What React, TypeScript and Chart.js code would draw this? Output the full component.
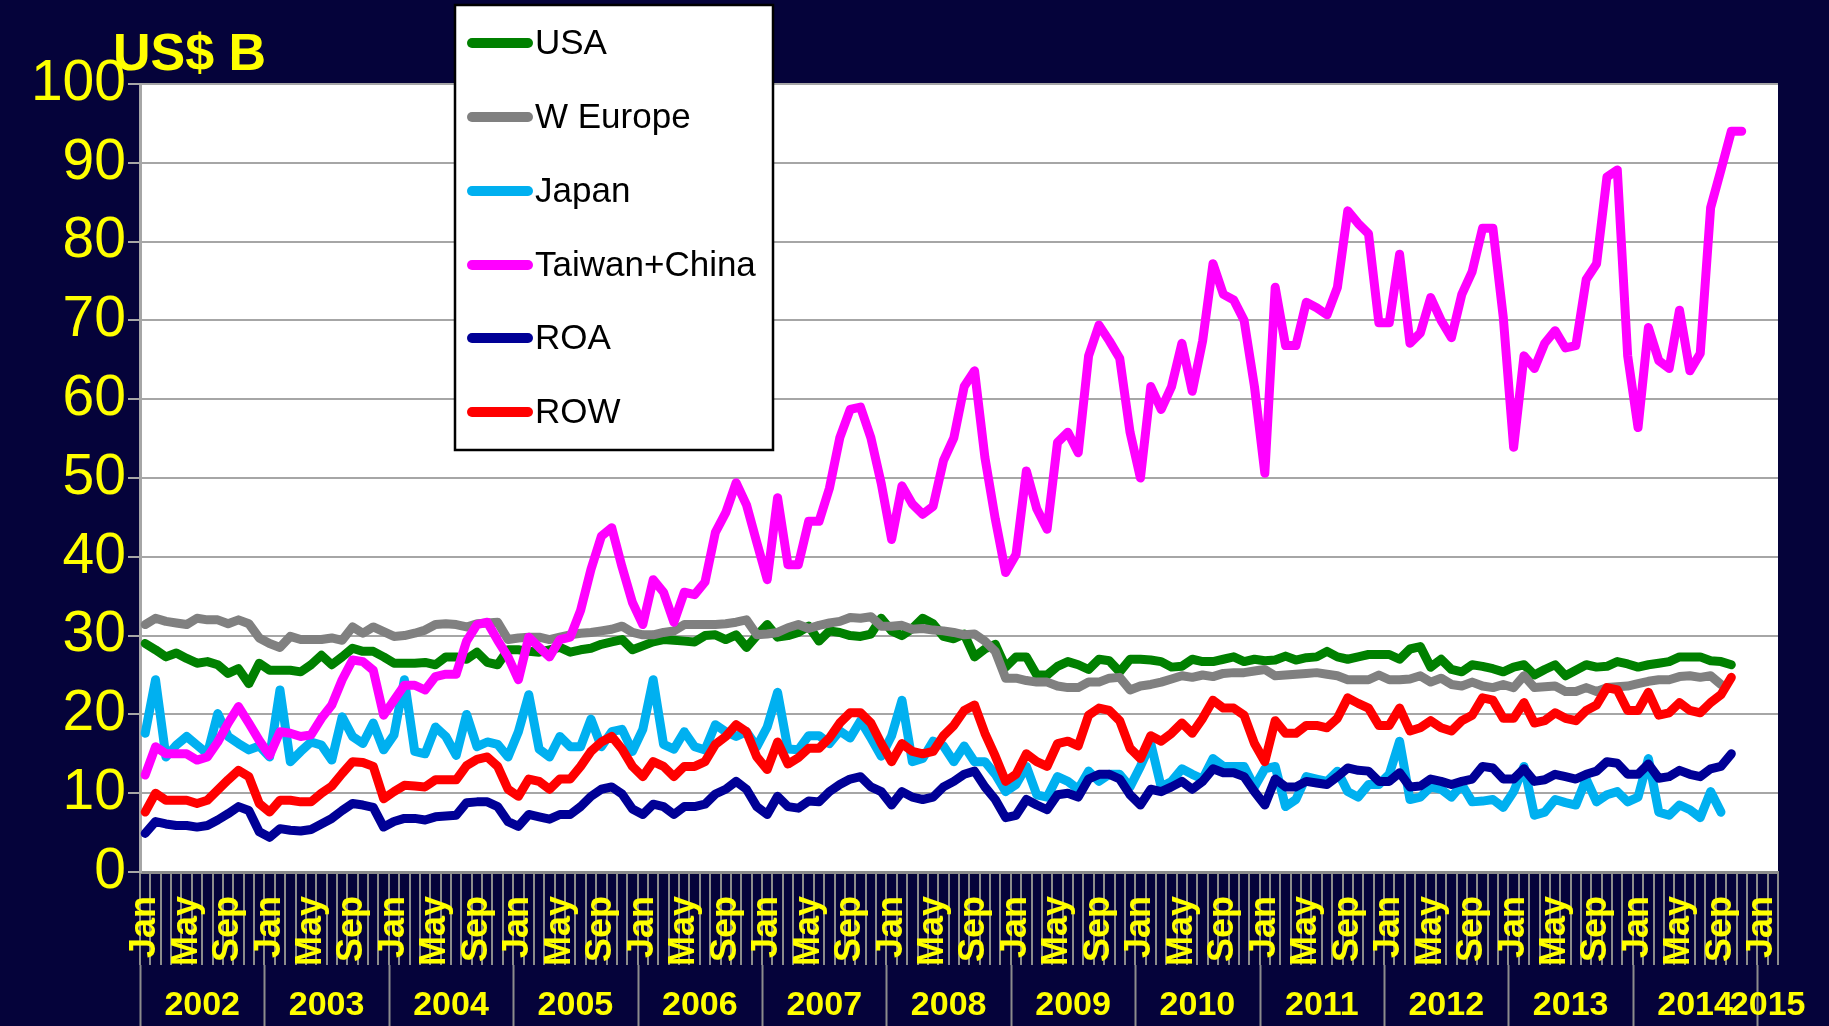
import React, { useEffect, useRef } from 'react';
import { Chart, registerables } from 'chart.js';

Chart.register(...registerables);

// ---------- data ----------
const monthNames = ['Jan', 'Feb', 'Mar', 'Apr', 'May', 'Jun', 'Jul', 'Aug', 'Sep', 'Oct', 'Nov', 'Dec'];
const shownMonths = ['Jan', 'May', 'Sep'];
const years = ['2002', '2003', '2004', '2005', '2006', '2007', '2008', '2009', '2010', '2011', '2012', '2013', '2014', '2015'];
const yTicks = [0, 10, 20, 30, 40, 50, 60, 70, 80, 90, 100];
const unitTitle = 'US$ B';

// Jan 2002 .. Feb 2015 (158 monthly categories)
const categories: string[] = [];
years.forEach((yr) => {
  monthNames.forEach((m, mi) => {
    if (yr === '2015' && mi > 1) return;
    categories.push(`${m} ${yr}`);
  });
});

const usa = [
  29.0, 28.2, 27.3, 27.8, 27.1, 26.5, 26.7, 26.3, 25.2, 25.8, 23.9, 26.5,
  25.6, 25.6, 25.6, 25.4, 26.3, 27.5, 26.3, 27.3, 28.4, 28.0, 28.0, 27.3,
  26.5, 26.5, 26.5, 26.6, 26.3, 27.3, 27.3, 27.0, 27.9, 26.6, 26.3, 28.2,
  28.2, 28.0, 27.9, 28.2, 28.5, 27.9, 28.2, 28.4, 28.9, 29.2, 29.5, 28.2,
  28.7, 29.2, 29.5, 29.4, 29.3, 29.2, 30.0, 30.1, 29.5, 30.1, 28.5, 30.0,
  31.4, 29.8, 30.0, 30.4, 31.2, 29.3, 30.6, 30.4, 30.0, 29.9, 30.2, 32.2,
  30.6, 30.0, 30.9, 32.2, 31.5, 29.9, 29.6, 30.2, 27.3, 28.3, 28.9, 26.0,
  27.3, 27.3, 25.0, 25.0, 26.1, 26.7, 26.3, 25.7, 27.0, 26.8, 25.4, 27.0,
  27.0, 26.9, 26.7, 26.0, 26.1, 27.0, 26.7, 26.7, 27.0, 27.3, 26.7, 27.0,
  26.8, 26.9, 27.4, 26.9, 27.2, 27.3, 28.0, 27.3, 27.0, 27.3, 27.6, 27.6,
  27.6, 27.0, 28.3, 28.6, 26.0, 27.0, 25.7, 25.4, 26.3, 26.1, 25.8, 25.4,
  26.0, 26.3, 25.0, 25.7, 26.3, 24.9, 25.6, 26.3, 26.0, 26.1, 26.7, 26.4,
  26.0, 26.3, 26.5, 26.7, 27.3, 27.3, 27.3, 26.8, 26.7, 26.3,
];

const wEurope = [
  31.4, 32.2, 31.8, 31.6, 31.4, 32.2, 32.0, 32.0, 31.5, 32.0, 31.5, 29.7,
  29.0, 28.5, 29.9, 29.5, 29.5, 29.5, 29.7, 29.4, 31.1, 30.3, 31.1, 30.5,
  29.9, 30.0, 30.3, 30.7, 31.4, 31.5, 31.4, 31.1, 31.5, 31.6, 31.7, 29.5,
  29.7, 29.8, 29.8, 29.5, 29.8, 30.1, 30.3, 30.4, 30.6, 30.8, 31.2, 30.4,
  30.1, 30.1, 30.4, 30.6, 31.4, 31.4, 31.4, 31.4, 31.5, 31.7, 32.0, 30.1,
  30.2, 30.4, 31.0, 31.4, 30.9, 31.3, 31.6, 31.8, 32.3, 32.2, 32.4, 31.2,
  31.2, 31.3, 30.8, 30.9, 30.7, 30.6, 30.4, 30.1, 30.2, 29.3, 28.0, 24.6,
  24.6, 24.3, 24.1, 24.1, 23.6, 23.4, 23.4, 24.1, 24.1, 24.6, 24.7, 23.1,
  23.6, 23.8, 24.1, 24.5, 24.9, 24.7, 25.0, 24.8, 25.2, 25.3, 25.3, 25.5,
  25.7, 24.9, 25.0, 25.1, 25.2, 25.3, 25.1, 24.9, 24.4, 24.4, 24.4, 25.0,
  24.4, 24.4, 24.5, 24.9, 24.1, 24.6, 23.8, 23.6, 24.1, 23.6, 23.4, 23.8,
  23.4, 24.9, 23.4, 23.5, 23.6, 22.9, 22.9, 23.4, 22.9, 23.4, 23.5, 23.6,
  23.9, 24.2, 24.4, 24.4, 24.8, 24.9, 24.7, 24.9, 23.8,
];

const japan = [
  17.6, 24.4, 14.6, 16.1, 17.2, 16.1, 15.0, 20.1, 17.2, 16.3, 15.5, 16.0,
  14.6, 23.1, 14.0, 15.3, 16.5, 16.1, 14.2, 19.7, 17.2, 16.3, 18.9, 15.5,
  17.4, 24.4, 15.3, 15.0, 18.4, 17.2, 14.8, 20.0, 15.9, 16.5, 16.2, 14.6,
  17.8, 22.5, 15.6, 14.6, 17.2, 15.9, 15.9, 19.4, 15.9, 17.8, 18.1, 15.3,
  18.1, 24.4, 16.2, 15.6, 17.8, 15.9, 15.5, 18.7, 17.8, 17.2, 17.8, 15.9,
  18.4, 22.8, 15.6, 15.5, 17.3, 17.3, 16.3, 17.9, 17.0, 19.2, 17.0, 14.7,
  17.3, 21.8, 14.0, 14.4, 16.6, 16.0, 14.0, 16.0, 14.0, 14.0, 12.4, 10.2,
  11.1, 13.4, 9.8, 9.5, 12.1, 11.5, 10.5, 12.8, 11.5, 12.4, 12.4, 10.8,
  13.4, 16.3, 10.8, 11.5, 13.1, 12.4, 11.8, 14.4, 13.4, 13.4, 13.4, 10.8,
  13.1, 13.4, 8.3, 9.2, 12.1, 11.8, 11.5, 12.8, 10.2, 9.5, 11.1, 11.1,
  12.4, 16.6, 9.2, 9.5, 10.8, 10.5, 9.5, 11.1, 8.9, 9.0, 9.2, 8.2,
  10.2, 13.4, 7.2, 7.6, 9.2, 8.8, 8.5, 11.8, 8.9, 9.8, 10.2, 8.9,
  9.5, 14.4, 7.6, 7.2, 8.5, 7.9, 6.9, 10.2, 7.6,
];

const taiwanChina = [
  12.3, 15.9, 15.0, 15.0, 15.0, 14.2, 14.6, 16.5, 18.9, 21.0, 18.9, 16.7,
  14.8, 17.8, 17.6, 17.2, 17.4, 19.5, 21.2, 24.4, 26.9, 26.7, 25.6, 19.9,
  21.8, 23.7, 23.7, 23.1, 24.8, 25.1, 25.1, 29.3, 31.4, 31.7, 29.4, 27.3,
  24.4, 29.8, 28.5, 27.3, 29.5, 29.8, 33.2, 38.4, 42.6, 43.7, 38.7, 34.2,
  31.4, 37.1, 35.5, 31.7, 35.5, 35.2, 36.8, 43.1, 45.6, 49.4, 46.6, 41.8,
  37.1, 47.5, 39.0, 39.0, 44.5, 44.5, 48.7, 55.1, 58.7, 59.0, 55.1, 49.3,
  42.2, 49.0, 46.7, 45.4, 46.4, 52.2, 55.1, 61.6, 63.6, 52.6, 44.8, 38.0,
  40.3, 50.9, 46.1, 43.5, 54.5, 55.8, 53.2, 65.5, 69.4, 67.4, 65.2, 55.8,
  50.0, 61.6, 58.7, 61.6, 67.1, 61.0, 67.4, 77.2, 73.3, 72.6, 70.0, 61.6,
  50.6, 74.2, 66.8, 66.8, 72.3, 71.6, 70.7, 74.2, 83.9, 82.3, 81.0, 69.7,
  69.7, 78.4, 67.1, 68.4, 72.9, 70.0, 67.8, 73.3, 76.2, 81.7, 81.7, 70.4,
  53.9, 65.5, 63.9, 67.1, 68.7, 66.5, 66.8, 75.2, 77.2, 88.2, 89.1, 65.5,
  56.4, 69.1, 64.9, 63.9, 71.3, 63.6, 65.8, 84.3, 89.1, 94.0, 94.0,
];

const roa = [
  4.9, 6.4, 6.1, 5.9, 5.9, 5.7, 5.9, 6.6, 7.4, 8.3, 7.8, 5.1,
  4.4, 5.5, 5.3, 5.2, 5.4, 6.1, 6.8, 7.8, 8.7, 8.5, 8.2, 5.7,
  6.4, 6.8, 6.8, 6.6, 7.0, 7.1, 7.2, 8.8, 8.9, 8.9, 8.3, 6.4,
  5.8, 7.3, 7.0, 6.7, 7.3, 7.3, 8.3, 9.6, 10.5, 10.8, 9.9, 8.0,
  7.3, 8.6, 8.3, 7.3, 8.3, 8.3, 8.6, 9.9, 10.5, 11.5, 10.5, 8.3,
  7.3, 9.6, 8.3, 8.1, 9.0, 8.9, 10.2, 11.1, 11.8, 12.1, 10.8, 10.2,
  8.5, 10.2, 9.5, 9.2, 9.5, 10.8, 11.5, 12.4, 12.8, 10.8, 9.2, 6.9,
  7.2, 9.2, 8.5, 7.9, 9.8, 10.0, 9.5, 11.8, 12.4, 12.4, 11.8, 9.8,
  8.5, 10.5, 10.2, 10.8, 11.5, 10.5, 11.5, 13.1, 12.6, 12.6, 12.1, 10.2,
  8.5, 11.8, 10.8, 10.8, 11.5, 11.3, 11.1, 12.1, 13.2, 12.9, 12.8, 11.5,
  11.5, 12.6, 10.8, 10.9, 11.8, 11.5, 11.1, 11.5, 11.8, 13.4, 13.2, 11.8,
  11.8, 13.1, 11.5, 11.7, 12.4, 12.1, 11.8, 12.4, 12.8, 14.0, 13.8, 12.4,
  12.4, 13.7, 11.9, 12.1, 12.9, 12.4, 12.1, 13.1, 13.4, 15.0,
];

const row = [
  7.6, 10.0, 9.1, 9.1, 9.1, 8.7, 9.1, 10.4, 11.7, 12.9, 12.1, 8.7,
  7.6, 9.1, 9.1, 8.9, 8.9, 10.0, 10.9, 12.5, 14.0, 13.9, 13.4, 9.3,
  10.2, 11.0, 10.9, 10.8, 11.7, 11.7, 11.7, 13.5, 14.3, 14.6, 13.4, 10.5,
  9.6, 11.8, 11.5, 10.5, 11.8, 11.8, 13.4, 15.3, 16.5, 17.2, 15.6, 13.4,
  12.1, 14.0, 13.4, 12.1, 13.4, 13.4, 14.0, 16.2, 17.2, 18.7, 17.8, 14.6,
  13.0, 16.5, 13.7, 14.5, 15.7, 15.7, 17.0, 18.9, 20.2, 20.2, 18.9, 16.3,
  14.0, 16.3, 15.3, 15.0, 15.3, 17.3, 18.6, 20.5, 21.2, 17.6, 14.7, 11.5,
  12.4, 15.0, 14.0, 13.4, 16.3, 16.6, 16.0, 19.9, 20.8, 20.5, 19.2, 15.7,
  14.4, 17.3, 16.6, 17.6, 18.9, 17.6, 19.5, 21.8, 20.8, 20.8, 19.9, 16.3,
  14.0, 19.2, 17.6, 17.6, 18.6, 18.6, 18.3, 19.5, 22.1, 21.4, 20.8, 18.6,
  18.6, 20.8, 17.9, 18.3, 19.2, 18.3, 17.9, 19.2, 19.9, 22.1, 21.8, 19.5,
  19.5, 21.5, 18.9, 19.2, 20.2, 19.5, 19.2, 20.5, 21.2, 23.4, 23.1, 20.5,
  20.5, 22.8, 19.9, 20.2, 21.5, 20.5, 20.2, 21.5, 22.5, 24.7,
];

const seriesLabels = ['USA', 'W Europe', 'Japan', 'Taiwan+China', 'ROA', 'ROW'];
const seriesColors = ['#008000', '#808080', '#00B0F0', '#FF00FF', '#000096', '#FF0000'];

// ---------- styling ----------
const NAVY = '#05033A';
const YELLOW = '#FFFF00';
const FONT = "'Liberation Sans', Arial, Helvetica, sans-serif";

const bgPlugin = {
  id: 'bgPlugin',
  beforeDraw(chart: any) {
    const { ctx, chartArea } = chart;
    ctx.save();
    ctx.fillStyle = NAVY;
    ctx.fillRect(0, 0, chart.width, chart.height);
    ctx.fillStyle = '#FFFFFF';
    ctx.fillRect(chartArea.left, chartArea.top, chartArea.right - chartArea.left, chartArea.bottom - chartArea.top);
    ctx.restore();
  },
};

const overlayPlugin = {
  id: 'overlayPlugin',
  afterDraw(chart: any) {
    const { ctx } = chart;
    const xs = chart.scales.x;
    ctx.save();

    // unit title
    ctx.fillStyle = YELLOW;
    ctx.font = `bold 52px ${FONT}`;
    ctx.textAlign = 'left';
    ctx.textBaseline = 'alphabetic';
    ctx.fillText(unitTitle, 113, 70);

    // year row: separators + labels
    const half = (xs.getPixelForValue(1) - xs.getPixelForValue(0)) / 2;
    const rowTop = xs.top + 93;
    ctx.strokeStyle = '#8C8C8C';
    ctx.lineWidth = 2;
    ctx.font = `bold 34px ${FONT}`;
    ctx.textAlign = 'center';
    ctx.textBaseline = 'middle';
    years.forEach((yr, k) => {
      const startIdx = k * 12;
      if (startIdx >= categories.length) return;
      const endIdx = Math.min(startIdx + 11, categories.length - 1);
      const x0 = xs.getPixelForValue(startIdx) - half;
      const x1 = xs.getPixelForValue(endIdx) + half;
      ctx.beginPath();
      ctx.moveTo(Math.round(x0) + 0.5, rowTop);
      ctx.lineTo(Math.round(x0) + 0.5, chart.height);
      ctx.stroke();
      ctx.fillStyle = YELLOW;
      ctx.fillText(yr, (x0 + x1) / 2, 1006);
    });

    // legend box
    const bx = 455, by = 5, bw = 318, bh = 445;
    ctx.fillStyle = '#FFFFFF';
    ctx.fillRect(bx, by, bw, bh);
    ctx.strokeStyle = '#000000';
    ctx.lineWidth = 2.5;
    ctx.strokeRect(bx, by, bw, bh);
    const rowYs = [43, 117, 191, 265, 338, 412];
    ctx.font = `35px ${FONT}`;
    ctx.textAlign = 'left';
    ctx.textBaseline = 'middle';
    chart.data.datasets.forEach((ds: any, i: number) => {
      const y = rowYs[i];
      ctx.strokeStyle = ds.borderColor;
      ctx.lineWidth = 10;
      ctx.lineCap = 'round';
      ctx.beginPath();
      ctx.moveTo(472, y);
      ctx.lineTo(528, y);
      ctx.stroke();
      ctx.fillStyle = '#000000';
      ctx.fillText(ds.label, 535, y + 1);
    });
    ctx.restore();
  },
};

export default function App() {
  const ref = useRef<HTMLCanvasElement | null>(null);

  useEffect(() => {
    document.body.style.margin = '0';
    document.body.style.background = NAVY;
    const canvas = ref.current;
    if (!canvas) return;
    const dataArrays = [usa, wEurope, japan, taiwanChina, roa, row];
    const chart = new Chart(canvas, {
      type: 'line',
      data: {
        labels: categories,
        datasets: dataArrays.map((d, i) => ({
          label: seriesLabels[i],
          data: d,
          borderColor: seriesColors[i],
          backgroundColor: seriesColors[i],
          order: 6 - i,
        })),
      },
      options: {
        animation: false,
        responsive: false,
        events: [],
        layout: { padding: { top: 84, right: 51, left: 0, bottom: 0 } },
        elements: {
          line: { borderWidth: 9, tension: 0, borderJoinStyle: 'round', borderCapStyle: 'round', fill: false },
          point: { radius: 0, hoverRadius: 0 },
        },
        plugins: {
          legend: { display: false },
          tooltip: { enabled: false },
          title: { display: false },
        },
        scales: {
          x: {
            type: 'category',
            offset: true,
            grid: {
              offset: true,
              drawOnChartArea: false,
              drawTicks: true,
              tickLength: 93,
              color: '#8C8C8C',
              lineWidth: 2,
            },
            border: { display: true, color: '#8C8C8C', width: 3 },
            ticks: {
              autoSkip: false,
              minRotation: 90,
              maxRotation: 90,
              padding: -69,
              color: YELLOW,
              font: { size: 36, weight: 'bold', family: FONT },
              callback: (_v: any, idx: number) => {
                const m = categories[idx].split(' ')[0];
                return shownMonths.includes(m) ? m : '';
              },
            },
            afterFit: (s: any) => {
              s.height = 154;
            },
          },
          y: {
            min: yTicks[0],
            max: yTicks[yTicks.length - 1],
            ticks: {
              stepSize: 10,
              color: YELLOW,
              padding: 2,
              font: { size: 57, family: FONT },
            },
            grid: { color: '#A6A6A6', lineWidth: 2, tickLength: 12 },
            border: { color: '#A6A6A6', width: 3 },
            afterFit: (s: any) => {
              s.width = 140;
            },
          },
        },
      } as any,
      plugins: [bgPlugin, overlayPlugin],
    });
    return () => chart.destroy();
  }, []);

  return (
    <div style={{ width: 1829, height: 1026, background: NAVY }}>
      <canvas ref={ref} width={1829} height={1026} style={{ display: 'block' }} />
    </div>
  );
}
